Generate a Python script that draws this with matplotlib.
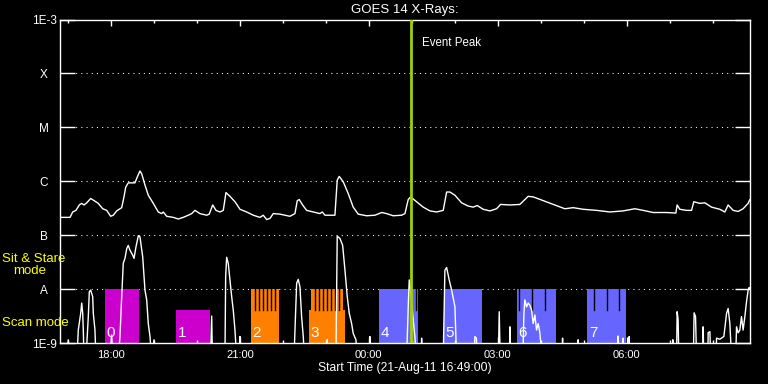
import numpy as np
import matplotlib
matplotlib.use("Agg")
import matplotlib.pyplot as plt
from matplotlib.ticker import FixedLocator, NullLocator

# time axis is in minutes after the start time (21-Aug-11 16:49:00)
start_hour, start_min = 16, 49
span_min = 963

# GOES long channel (upper curve), log10 flux
up_t = [0, 14, 17.7, 22.3, 26.9, 30.3, 33.5, 37.3, 42.8, 46.5,
        53.4, 59.6, 65.2, 70.7, 74.4, 79.1, 86.1, 89.3, 91.7, 95.3,
        104.6, 107.9, 111.6, 114, 118.6, 123.2, 130.2, 137.2, 141.9, 144.1,
        148.9, 158.1, 165.1, 172, 179, 183.8, 188.4, 195.3, 204.7, 208.3,
        213.1, 217.7, 223.2, 227.9, 231.6, 237.2, 244.2, 251.2, 260.5, 269.7,
        279.1, 283.7, 288.4, 293, 297.6, 307, 313.9, 320.9, 327.9, 331.1,
        333.9, 338.6, 344.2, 353.4, 362.8, 366, 369.8, 383.7, 386.9, 389.7,
        395.3, 402.3, 409.2, 416.2, 427.9, 439.5, 448.9, 455.8, 465, 476.8,
        481.4, 486, 489.3, 497.7, 506.9, 516.3, 525.6, 534.8, 539.6, 544.2,
        551.2, 560.5, 569.7, 576.7, 582.3, 590.6, 600, 609.3, 614.9, 627.9,
        641.8, 653.4, 660.4, 674.4, 688.3, 704.6, 716.2, 730.2, 748.9, 767.4,
        786, 802.3, 813.9, 827.8, 846.5, 859.5, 861.3, 865.1, 874.4, 881.4,
        884.6, 893, 900, 909.3, 920.9, 927.9, 932.5, 939.5, 946.4, 953.4,
        960.4, 962.8]
up_log = [-6.67, -6.67, -6.57, -6.54, -6.44, -6.41, -6.44, -6.40, -6.32, -6.35,
          -6.41, -6.51, -6.54, -6.65, -6.63, -6.55, -6.49, -6.29, -6.11, -6.03,
          -6.03, -5.92, -5.81, -5.86, -6.07, -6.26, -6.41, -6.57, -6.60, -6.57,
          -6.65, -6.67, -6.70, -6.67, -6.63, -6.60, -6.54, -6.60, -6.63, -6.61,
          -6.44, -6.54, -6.57, -6.54, -6.21, -6.28, -6.38, -6.52, -6.57, -6.63,
          -6.67, -6.63, -6.71, -6.69, -6.60, -6.61, -6.63, -6.65, -6.60, -6.36,
          -6.34, -6.44, -6.54, -6.57, -6.60, -6.57, -6.63, -6.63, -5.98, -5.91,
          -6.01, -6.23, -6.48, -6.61, -6.64, -6.63, -6.58, -6.60, -6.64, -6.63,
          -6.60, -6.34, -6.29, -6.38, -6.48, -6.55, -6.57, -6.54, -6.20, -6.20,
          -6.26, -6.40, -6.46, -6.48, -6.45, -6.52, -6.55, -6.51, -6.43, -6.44,
          -6.43, -6.28, -6.29, -6.36, -6.43, -6.51, -6.49, -6.52, -6.54, -6.57,
          -6.55, -6.51, -6.54, -6.58, -6.58, -6.59, -6.44, -6.52, -6.54, -6.54,
          -6.38, -6.41, -6.40, -6.48, -6.52, -6.57, -6.44, -6.54, -6.56, -6.51,
          -6.41, -6.34]

# GOES short channel (lower curve), log10 flux; -9.3 = below the plot floor
B = -9.3
lo_t = [0, 8, 11.6, 13.3, 23.7, 25.5, 28.9, 30.3, 31.7, 32.5, 33.5,
        36.3, 39.5, 40.9, 42.8, 45.6, 46.5, 48.8, 50.2,
        69.8, 72.1, 73.3,
        81.3, 83.7, 86.1, 88.3, 90.7, 93.1, 95.3, 97.7, 101.4, 103.3, 106,
        109.3, 111.6, 115.4, 118.6, 121, 123.2, 125.6, 127.9, 131.2, 132.6,
        210, 211.7, 212.8,
        230.2, 231.2, 232.6, 234.8, 237.2, 239.6, 241.8, 244.2, 246.6,
        250.5, 251.2, 251.9,
        326.5, 327.9, 330.3, 332.5, 334.9, 337.2, 339.5, 341.2,
        372.3, 373, 373.7,
        385.1, 386.9, 390.7, 394.5, 397.7, 400.9, 403.7, 407, 409.2, 413, 415.1,
        431.8, 432.5, 433.2,
        483.7, 486, 487.4, 489.3, 492.1, 495.3, 497.4,
        504.1, 504.7, 505.4,
        534.8, 537.2, 539.6, 543.2, 546.6, 551.2, 553.5,
        577.6, 579, 581.1, 582.5,
        611.8, 613, 614.4,
        627.2, 627.9, 628.9,
        646, 647.4, 648.8, 651.2, 653.4, 655.8, 658.2, 660.4, 662.8, 665.1,
        667.4, 669.7, 673,
        700.4, 701.4, 702.3,
        722.8, 723.2, 723.7,
        778.6, 779, 780,
        785.5, 786, 786.5,
        794, 794.4, 795,
        854.6, 855.3, 856,
        860.5, 861.3, 862.7, 863.7,
        883.9, 885, 887, 888.4,
        897.2, 897.6, 898.6,
        904.2, 904.6, 907, 908.3,
        915.3, 916.3, 920.9, 926.5, 930.3, 932.5, 934.9, 937.3,
        943, 944.2, 946.4, 948.8, 951.1, 953.4, 955.8, 958.1, 960.4, 961.8, 963]
lo_log = [B, B, -8.94, B, B, -8.76, -8.45, -8.26, -8.45, -8.76, B,
          B, -8.51, -8.05, -8.02, -8.14, -8.45, -8.76, B,
          B, -8.85, B,
          B, -8.88, -8.14, -7.52, -7.43, -7.25, -7.19, -7.28, -7.37, -7.43, -7.22,
          -7.01, -7.03, -7.40, -8.02, -8.20, -8.64, -8.88, B, -8.94, B,
          B, -8.50, B,
          B, -7.77, -7.41, -7.52, -7.83, -8.14, -8.39, -8.76, B,
          B, -8.88, B,
          B, -8.76, -7.89, -7.82, -7.96, -8.51, -8.88, B,
          B, -8.94, B,
          B, -7.02, -7.06, -7.19, -7.65, -8.14, -8.45, -8.64, -8.82, -8.94, B,
          B, -8.88, B,
          B, -8.33, -7.83, -8.02, -8.45, -8.88, B,
          B, -8.91, B,
          B, -7.65, -7.60, -7.83, -8.02, -8.33, B,
          B, -8.88, -8.91, B,
          B, -8.42, B,
          B, -8.70, B,
          B, -8.48, -8.20, -8.33, -8.26, -8.30, -8.39, -8.64, -8.48, -8.76,
          -8.64, -8.81, B,
          B, -8.91, B,
          B, -8.94, B,
          B, -8.87, B,
          B, -8.91, B,
          B, -8.88, B,
          B, -8.94, B,
          B, -8.42, -8.57, B,
          B, -8.44, -8.51, B,
          B, -8.70, B,
          B, -8.81, -8.79, B,
          B, -8.91, -8.93, -8.88, -8.45, -8.36, -8.64, B,
          B, -8.70, -8.81, -8.76, -8.51, -8.76, -8.51, -8.24, -8.02, -7.97, -7.99]

# observation blocks
block_start = [62.8, 161.9, 266.5, 347.4, 445.1, 535.4, 637.7, 736.0]
block_end = [109.8, 208.9, 305.6, 397.7, 499.1, 589.2, 692.0, 789.7]
block_top = [-8.0, -8.39, -8.39, -8.39, -8.0, -8.0, -8.0, -8.0]
block_color = ['#cc00cc', '#cc00cc', '#ff8000', '#ff8000',
               '#6666ff', '#6666ff', '#6666ff', '#6666ff']
# sit & stare part on top of the scan part (blocks 2 and 3)
upper_start = [None, None, 266.5, 350.2, None, None, None, None]
upper_end = [None, None, 305.6, 394.9, None, None, None, None]
stripes = [[], [], [272.1, 277.7, 283.3, 288.8, 294.4, 300.0],
           [355.8, 361.4, 367.0, 372.5, 378.1, 383.7, 389.2],
           [496.3], [], [640.9, 659.0, 677.1], [745.5, 763.7, 780.4]]

peak_min = 490

ytick_vals = [-9, -8, -7, -6, -5, -4, -3]
ytick_text = ['1E-9', 'A', 'B', 'C', 'M', 'X', '1E-3']

W, H = 768, 384
fig = plt.figure(figsize=(W / 100, H / 100), dpi=100, facecolor='black')
ax = fig.add_axes([60 / W, 1 - 343 / H, 690 / W, 323.5 / H])
ax.set_facecolor('black')
ax.set_yscale('log')
ax.set_ylim(1e-9, 1e-3)
ax.set_xlim(0, span_min)

FONT = 'Liberation Sans'

# blocks
for i in range(len(block_start)):
    s, e = block_start[i], block_end[i]
    ax.bar(s, 10 ** block_top[i] - 1e-10, bottom=1e-10, width=e - s, align='edge',
           color=block_color[i], linewidth=0, zorder=1)
    if upper_start[i] is not None:
        ax.bar(upper_start[i], 1e-8 - 1e-10, bottom=1e-10,
               width=upper_end[i] - upper_start[i], align='edge',
               color=block_color[i], linewidth=0, zorder=1)
    for st in stripes[i]:
        ax.plot([st, st], [10 ** -8.39, 1e-8], color='black', lw=1.0, zorder=2)
    ax.text(s + 2.5, 10 ** -8.81, str(i), color='white', fontsize=11,
            family=FONT, ha='left', va='center', zorder=5)

# gridlines at the flare classes
for v in ytick_vals[1:-1]:
    ax.axhline(10 ** v, color='white', lw=0.75, ls=(0, (1, 4)), zorder=0)

ax.plot(up_t, 10 ** np.array(up_log), color='white', lw=1.0, zorder=4)
ax.plot(lo_t, 10 ** np.array(lo_log), color='white', lw=1.0, zorder=4)

ax.axvline(peak_min, color='#a0d000', lw=2.0, zorder=6)

# axes styling
for sp in ax.spines.values():
    sp.set_color('white')
    sp.set_linewidth(1.0)

ax.yaxis.set_major_locator(FixedLocator([10.0 ** v for v in ytick_vals]))
ax.yaxis.set_minor_locator(NullLocator())
ax.set_yticklabels(ytick_text)
ax.tick_params(axis='y', which='major', direction='in', length=10.8, width=1.0,
               color='white', labelcolor='white', labelsize=8.5, pad=11.5,
               left=True, right=True)
for lbl in ax.get_yticklabels():
    lbl.set_ha('center')
    lbl.set_family(FONT)

first_hour = 60 - start_min
hour_ticks = list(range(first_hour, span_min + 1, 60))
major_ticks = [t for t in hour_ticks if (start_hour + 1 + (t - first_hour) // 60) % 3 == 0]
major_labels = ['%02d:00' % ((start_hour + 1 + (t - first_hour) // 60) % 24) for t in major_ticks]
ax.xaxis.set_major_locator(FixedLocator(major_ticks))
ax.xaxis.set_minor_locator(FixedLocator(hour_ticks))
ax.set_xticklabels(major_labels)
ax.tick_params(axis='x', which='major', direction='in', length=4.5, width=1.0,
               color='white', labelcolor='white', labelsize=8, pad=5,
               top=True, bottom=True)
ax.tick_params(axis='x', which='minor', direction='in', length=2.5, width=1.0,
               color='white', top=True, bottom=True)
for lbl in ax.get_xticklabels():
    lbl.set_family(FONT)

# texts
fig.text(405 / W, 1 - 10 / H, 'GOES 14 X-Rays:', color='white', fontsize=9.5,
         family=FONT, ha='center', va='center')
fig.text(405 / W, 1 - 367.5 / H, 'Start Time (21-Aug-11 16:49:00)', color='white',
         fontsize=8.7, family=FONT, ha='center', va='center')
fig.text(422 / W, 1 - 42.5 / H, 'Event Peak', color='white', fontsize=8.3,
         family=FONT, ha='left', va='center')
fig.text(2 / W, 1 - 258.5 / H, 'Sit & Stare', color='yellow', fontsize=9.5,
         family=FONT, ha='left', va='center')
fig.text(13 / W, 1 - 271 / H, 'mode', color='yellow', fontsize=9.5,
         family=FONT, ha='left', va='center')
fig.text(2 / W, 1 - 323.5 / H, 'Scan mode', color='yellow', fontsize=9.5,
         family=FONT, ha='left', va='center')

fig.savefig('out.png', dpi=100, facecolor='black')
